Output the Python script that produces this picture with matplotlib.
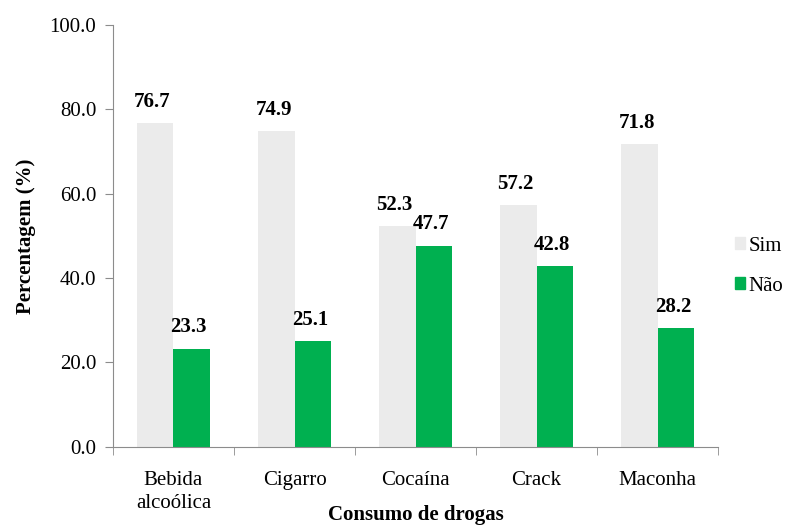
import numpy as np
import matplotlib.pyplot as plt
from matplotlib.patches import Patch

# dados
categorias = ["Bebida\nalcoólica", "Cigarro", "Cocaína", "Crack", "Maconha"]
sim = [76.7, 74.9, 52.3, 57.2, 71.8]
nao = [23.3, 25.1, 47.7, 42.8, 28.2]

plt.rcParams["font.family"] = ["Liberation Serif", "DejaVu Serif"]

cor_sim = "#ebebeb"
cor_nao = "#00b050"
cor_eixo = "#8c8c8c"

fig = plt.figure(figsize=(7.9, 5.27), dpi=100)
ax = fig.add_axes([0.143, 0.152, 0.766, 0.801])

x = np.arange(len(categorias))
w = 0.3
b1 = ax.bar(x - w / 2, sim, w, color=cor_sim, label="Sim")
b2 = ax.bar(x + w / 2, nao, w, color=cor_nao, label="Não")

for bars in (b1, b2):
    for b in bars:
        ax.annotate(f"{b.get_height():.1f}", (b.get_x() + b.get_width() / 2, b.get_height()),
                    xytext=(-2, 8), textcoords="offset points", ha="center", va="bottom",
                    fontsize=15, fontweight="bold")

ax.set_xlim(-0.5, len(categorias) - 0.5)
ax.set_ylim(0, 100)
ax.set_yticks(np.arange(0, 101, 20))
ax.set_yticklabels([f"{v:.1f}" for v in np.arange(0, 101, 20)], fontsize=15)

# rótulos de categoria centrados, ticks nas divisões
ax.set_xticks(x)
ax.set_xticklabels(categorias, fontsize=15, linespacing=1.3)
ax.tick_params(axis="x", length=0, pad=17)
ax.set_xticks(np.arange(-0.5, len(categorias), 1), minor=True)
ax.tick_params(axis="x", which="minor", length=6, direction="out", color=cor_eixo)
ax.tick_params(axis="y", length=6, direction="out", color=cor_eixo, pad=6)

for s in ("top", "right"):
    ax.spines[s].set_visible(False)
for s in ("left", "bottom"):
    ax.spines[s].set_color(cor_eixo)

ax.set_ylabel("Percentagem (%)", fontsize=15, fontweight="bold", labelpad=10)
# rótulo do eixo x fixo perto da borda inferior, como no original
fig.text(0.526, 0.022, "Consumo de drogas", ha="center", va="center",
         fontsize=15, fontweight="bold")

handles = [Patch(color=cor_sim), Patch(color=cor_nao)]
leg = fig.legend(handles, ["Sim", "Não"], loc="center left", bbox_to_anchor=(0.93, 0.495),
                 frameon=False, fontsize=15, handlelength=0.5, handleheight=0.5,
                 handletextpad=0.15, labelspacing=1.0, borderaxespad=0, borderpad=0)
for t in leg.get_texts():
    t.set_fontfamily("Liberation Serif")

fig.savefig("out.png", dpi=100)
